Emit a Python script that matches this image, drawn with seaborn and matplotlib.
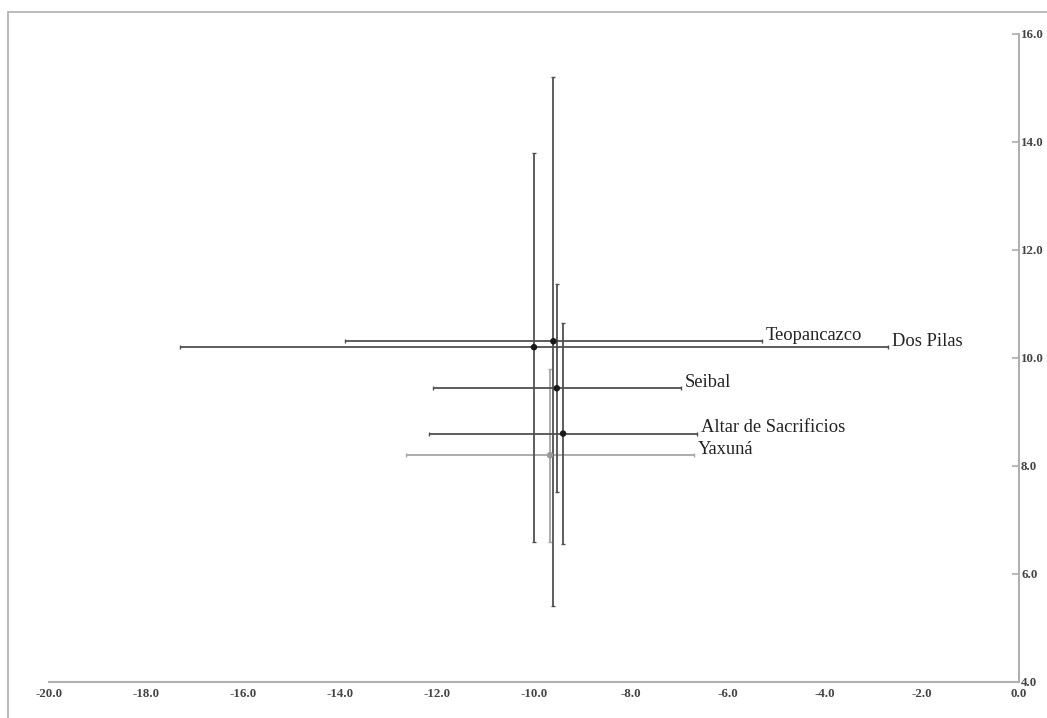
import matplotlib
matplotlib.use("Agg")
import matplotlib.pyplot as plt
from matplotlib.lines import Line2D
import seaborn as sns
import pandas as pd

# Site means and spreads
sites = ["Yaxuná", "Altar de Sacrificios", "Seibal", "Dos Pilas", "Teopancazco"]
x_mean = [-9.67, -9.40, -9.53, -10.00, -9.60]
x_sd = [2.97, 2.77, 2.56, 7.30, 4.30]
y_mean = [8.20, 8.60, 9.44, 10.20, 10.31]
y_sd = [1.60, 2.05, 1.93, 3.60, 4.90]
site_colors = ["#a6a6a6", "#505050", "#505050", "#505050", "#505050"]
dot_colors = ["#9a9a9a", "#1a1a1a", "#1a1a1a", "#1a1a1a", "#1a1a1a"]

x_ticks = [-20, -18, -16, -14, -12, -10, -8, -6, -4, -2, 0]
y_ticks = [4, 6, 8, 10, 12, 14, 16]

df = pd.DataFrame({"site": sites, "x": x_mean, "y": y_mean,
                   "xsd": x_sd, "ysd": y_sd})

sns.set_style("white")
plt.rcParams["font.family"] = ["Liberation Serif", "DejaVu Serif"]
plt.rcParams["axes.unicode_minus"] = False

fig = plt.figure(figsize=(10.47, 7.18), dpi=100)
ax = fig.add_axes([49 / 1047, 1 - 682 / 718, 970 / 1047, 648 / 718])

# error bars
for i, row in df.iterrows():
    ax.errorbar(row["x"], row["y"], xerr=row["xsd"], yerr=row["ysd"],
                fmt="none", ecolor=site_colors[i], elinewidth=1.3,
                capsize=1.6, capthick=1.0, zorder=2)

sns.scatterplot(data=df, x="x", y="y", hue="site",
                palette=dict(zip(sites, dot_colors)), s=22,
                edgecolor="none", legend=False, zorder=3, ax=ax)

# site names at the right end of each horizontal bar
for i, row in df.iterrows():
    ax.annotate(row["site"], (row["x"] + row["xsd"], row["y"]),
                xytext=(2.5, 1), textcoords="offset points",
                ha="left", va="baseline", fontsize=13.3, color="#222222")

ax.set_xlim(-20, 0)
ax.set_ylim(4, 16)
ax.set_xticks(x_ticks)
ax.set_yticks(y_ticks)
ax.set_xticklabels([f"{t:.1f}" for t in x_ticks])
ax.set_yticklabels([f"{t:.1f}" for t in y_ticks])
ax.yaxis.tick_right()
ax.tick_params(axis="both", direction="in", length=5, width=1.2,
               color="#aaaaaa", labelsize=9.3, labelcolor="#444444")
ax.tick_params(axis="x", pad=4)
ax.tick_params(axis="y", pad=1.5)
for lab in ax.get_xticklabels() + ax.get_yticklabels():
    lab.set_fontweight("bold")
ax.set_xlabel("")
ax.set_ylabel("")

for side in ["top", "left"]:
    ax.spines[side].set_visible(False)
for side in ["bottom", "right"]:
    ax.spines[side].set_color("#b0b0b0")
    ax.spines[side].set_linewidth(1.5)

# outer frame of the original figure (top and left edges)
fig.add_artist(Line2D([8 / 1047, 1.0], [1 - 12 / 718, 1 - 12 / 718],
                      transform=fig.transFigure, color="#b5b5b5", lw=1.3))
fig.add_artist(Line2D([8 / 1047, 8 / 1047], [0.0, 1 - 12 / 718],
                      transform=fig.transFigure, color="#b5b5b5", lw=1.3))

fig.savefig("out.png", dpi=100)
plt.close(fig)
